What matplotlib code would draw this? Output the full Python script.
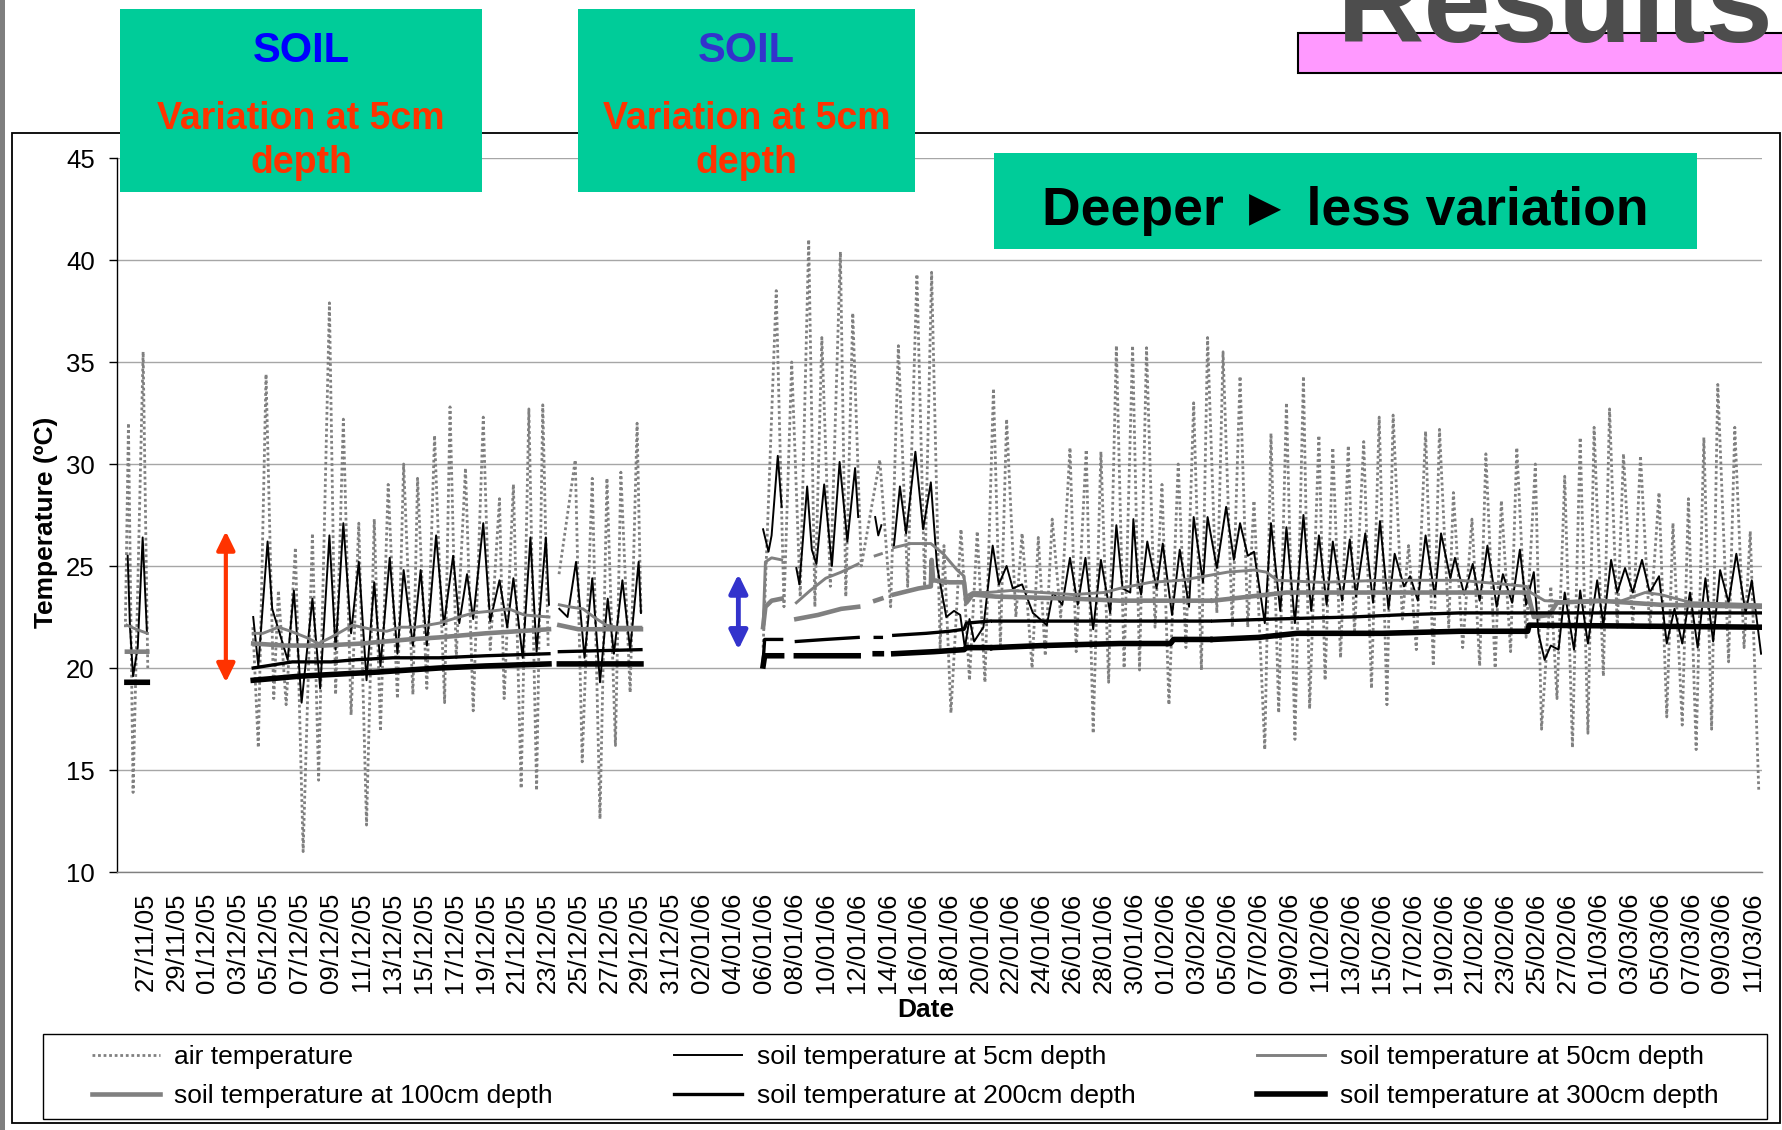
import numpy as np
import pandas as pd
import matplotlib
matplotlib.use('Agg')
import matplotlib.pyplot as plt
from matplotlib.patches import Rectangle

plt.rcParams['font.family'] = ['Liberation Sans', 'DejaVu Sans']

W, H = 1782, 1130
GAP = (np.nan, np.nan)

# logger readings, (day counted from 27/11/05, temperature in degC)
air = [
    (-1.30, 22.0), (-1.10, 32.0), (-0.80, 13.9), (-0.15, 35.5), (0.15, 20.0), GAP,
    (6.95, 22.0), (7.30, 16.1), (7.80, 34.4), (8.30, 18.5), (8.60, 23.8), (9.10, 18.2),
    (9.70, 25.9), (10.20, 11.0), (10.80, 26.6), (11.20, 14.5), (11.90, 37.9), (12.30, 18.7),
    (12.80, 32.2), (13.30, 17.7), (13.80, 27.1), (14.30, 12.3), (14.80, 27.3), (15.20, 16.9),
    (15.70, 29.0), (16.30, 18.5), (16.70, 30.0), (17.30, 18.7), (17.60, 29.3), (18.20, 19.0),
    (18.70, 31.4), (19.35, 18.3), (19.70, 32.8), (20.10, 20.5), (20.70, 29.8), (21.20, 17.9),
    (21.85, 32.3), (22.30, 20.9), (22.90, 28.3), (23.20, 18.5), (23.80, 29.0), (24.30, 14.1),
    (24.80, 32.7), (25.30, 14.0), (25.70, 32.9), (26.05, 21.0), GAP,
    (26.75, 24.6), (27.80, 30.2), (28.25, 15.4), (28.90, 29.3), (29.40, 12.6), (29.85, 29.3),
    (30.40, 16.2), (30.75, 29.6), (31.35, 18.8), (31.80, 32.0), (32.05, 22.7), GAP,
    (39.95, 21.0), (40.80, 38.5), (41.30, 23.0), (41.80, 35.0), (42.35, 23.5), (42.90, 41.0),
    (43.30, 23.0), (43.75, 36.2), (44.30, 24.0), (44.95, 40.4), (45.30, 23.5), (45.75, 37.4),
    (46.30, 25.0), (47.50, 30.2), (48.20, 23.0), (48.70, 35.8), (49.30, 24.0), (49.90, 39.3),
    (50.40, 24.0), (50.85, 39.4), (51.40, 21.0), (51.65, 26.0), (52.10, 17.8), (52.75, 26.8),
    (53.30, 19.4), (53.80, 26.7), (54.30, 19.3), (54.85, 33.7), (55.30, 21.1), (55.70, 32.2),
    (56.30, 22.5), (56.70, 26.6), (57.35, 20.0), (57.75, 26.4), (58.20, 20.6), (58.65, 27.3),
    (59.20, 22.5), (59.80, 30.8), (60.20, 20.8), (60.85, 30.7), (61.30, 16.8), (61.80, 30.6),
    (62.30, 19.3), (62.80, 35.8), (63.30, 20.0), (63.85, 35.8), (64.30, 19.9), (64.75, 35.7),
    (65.30, 22.0), (65.75, 29.0), (66.20, 18.2), (66.80, 30.0), (67.30, 21.0), (67.80, 33.0),
    (68.30, 19.9), (68.70, 36.2), (69.30, 22.7), (69.70, 35.5), (70.30, 22.0), (70.80, 34.3),
    (71.30, 22.0), (71.70, 28.2), (72.40, 16.0), (72.80, 31.5), (73.30, 17.8), (73.80, 33.0),
    (74.35, 16.5), (74.90, 34.3), (75.30, 18.0), (75.90, 31.4), (76.30, 19.4), (76.80, 30.8),
    (77.30, 20.5), (77.80, 30.9), (78.20, 21.7), (78.80, 31.1), (79.30, 19.0), (79.80, 32.3),
    (80.30, 18.2), (80.70, 32.4), (81.30, 22.4), (81.70, 26.0), (82.20, 20.9), (82.80, 31.6),
    (83.30, 20.1), (83.70, 31.7), (84.30, 22.0), (84.60, 28.6), (85.20, 21.0), (85.80, 27.3),
    (86.30, 20.1), (86.70, 30.5), (87.30, 20.0), (87.70, 28.2), (88.30, 20.8), (88.70, 30.8),
    (89.30, 21.5), (89.90, 30.0), (90.30, 17.0), (90.90, 24.0), (91.30, 18.5), (91.80, 29.4),
    (92.30, 16.1), (92.80, 31.3), (93.30, 16.8), (93.70, 31.8), (94.30, 19.6), (94.70, 32.7),
    (95.20, 22.0), (95.60, 30.5), (96.20, 22.0), (96.70, 30.4), (97.30, 21.9), (97.90, 28.6),
    (98.40, 17.6), (98.80, 27.1), (99.40, 17.2), (99.80, 28.3), (100.30, 16.0), (100.80, 31.3),
    (101.30, 17.0), (101.70, 33.9), (102.40, 20.3), (102.80, 31.8), (103.40, 21.0), (103.80, 26.7),
    (104.35, 14.0),
]

soil_5 = [
    (-1.15, 25.5), (-1.00, 22.0), (-0.80, 19.6), (-0.50, 21.0), (-0.18, 26.4), (0.10, 21.7), GAP,
    (6.97, 22.5), (7.30, 20.1), (7.90, 26.2), (8.20, 22.9), (8.60, 21.9), (9.20, 20.4),
    (9.60, 23.8), (10.10, 18.3), (10.80, 23.4), (11.30, 19.0), (11.90, 26.5), (12.30, 20.9),
    (12.80, 27.1), (13.30, 21.7), (13.80, 25.2), (14.30, 19.4), (14.80, 24.2), (15.20, 20.1),
    (15.80, 25.4), (16.30, 20.7), (16.70, 24.8), (17.30, 21.1), (17.80, 24.8), (18.20, 21.1),
    (18.80, 26.5), (19.30, 22.1), (19.90, 25.5), (20.30, 22.2), (20.80, 24.6), (21.20, 22.4),
    (21.85, 27.1), (22.30, 22.3), (22.90, 24.3), (23.40, 22.0), (23.80, 24.4), (24.40, 20.5),
    (24.90, 26.4), (25.30, 20.8), (25.90, 26.4), (26.10, 23.1), GAP,
    (26.77, 22.9), (27.30, 22.5), (27.85, 25.2), (28.40, 20.5), (28.90, 24.4), (29.40, 19.3),
    (29.90, 23.4), (30.30, 20.7), (30.85, 24.3), (31.35, 20.9), (31.90, 25.2), (32.05, 22.7), GAP,
    (39.95, 26.8), (40.30, 25.7), (40.50, 26.5), (40.90, 30.4), (41.15, 27.9), GAP,
    (42.10, 24.9), (42.30, 24.1), (42.80, 28.9), (43.10, 25.8), (43.40, 25.1), (43.90, 29.0),
    (44.40, 25.0), (44.90, 30.1), (45.40, 26.2), (45.90, 29.8), (46.10, 27.4), GAP,
    (47.20, 27.4), (47.40, 26.5), (47.60, 27.0), GAP,
    (48.40, 25.9), (48.80, 28.9), (49.20, 26.6), (49.80, 30.6), (50.30, 26.8), (50.80, 29.1),
    (51.20, 25.0), (51.80, 22.5), (52.30, 22.8), (52.70, 22.6), (53.00, 21.0), (53.30, 22.4),
    (53.60, 21.3), (54.20, 22.0), (54.80, 26.0), (55.20, 24.1), (55.70, 25.0), (56.10, 23.9),
    (56.70, 24.1), (57.40, 22.7), (58.30, 22.1), (58.70, 23.7), (59.30, 23.1), (59.80, 25.4),
    (60.30, 23.1), (60.80, 25.4), (61.30, 21.9), (61.80, 25.3), (62.40, 22.7), (62.80, 27.0),
    (63.20, 23.9), (63.70, 23.7), (63.90, 27.3), (64.20, 24.3), (64.40, 23.6), (64.80, 26.2),
    (65.40, 23.9), (65.80, 26.1), (66.40, 22.6), (66.90, 25.8), (67.50, 23.0), (67.80, 27.4),
    (68.40, 24.2), (68.70, 27.4), (69.30, 24.9), (69.90, 27.9), (70.40, 25.3), (70.80, 27.1),
    (71.30, 25.5), (71.70, 25.7), (72.40, 22.2), (72.80, 27.1), (73.40, 22.8), (73.80, 26.9),
    (74.35, 22.2), (74.90, 27.5), (75.40, 22.8), (75.90, 26.5), (76.40, 23.1), (76.80, 26.2),
    (77.40, 23.3), (77.90, 26.3), (78.30, 23.5), (78.90, 26.6), (79.40, 23.2), (79.85, 27.2),
    (80.40, 22.9), (80.80, 25.6), (81.40, 24.0), (81.80, 24.5), (82.30, 23.3), (82.80, 26.5),
    (83.40, 23.5), (83.80, 26.6), (84.40, 24.4), (84.70, 25.4), (85.30, 23.6), (85.85, 25.1),
    (86.30, 23.3), (86.80, 26.0), (87.40, 23.0), (87.80, 24.6), (88.40, 23.2), (88.90, 25.8),
    (89.30, 23.1), (89.80, 24.7), (90.10, 21.7), (90.50, 20.4), (90.90, 21.1), (91.40, 20.9),
    (91.80, 23.7), (92.40, 20.9), (92.80, 23.8), (93.30, 21.2), (93.90, 24.3), (94.30, 22.1),
    (94.80, 25.3), (95.20, 23.7), (95.70, 24.9), (96.20, 23.7), (96.80, 25.3), (97.30, 23.7),
    (97.90, 24.5), (98.40, 21.2), (98.90, 22.9), (99.40, 21.2), (99.90, 23.7), (100.40, 21.0),
    (100.90, 24.4), (101.40, 21.3), (101.85, 24.8), (102.40, 23.2), (102.90, 25.6), (103.50, 22.7),
    (103.90, 24.3), (104.50, 20.7),
]

soil_50 = [
    (-1.20, 22.1), (-0.60, 21.9), (0.12, 21.7), GAP,
    (6.97, 21.7), (7.60, 21.7), (8.60, 22.0), (9.40, 21.8), (10.40, 21.5), (11.20, 21.2),
    (12.00, 21.5), (13.40, 22.1), (14.60, 21.9), (15.60, 21.8), (16.50, 22.0), (17.50, 22.0),
    (19.00, 22.2), (20.30, 22.5), (21.20, 22.7), (22.50, 22.8), (23.50, 22.9), (24.50, 22.6),
    (26.10, 22.5), GAP,
    (26.77, 23.1), (27.40, 23.0), (28.30, 22.9), (29.00, 22.5), (29.80, 22.1), (30.50, 22.0),
    (32.05, 22.0), GAP,
    (39.95, 22.0), (40.10, 25.2), (40.50, 25.4), (41.15, 25.3), GAP,
    (42.10, 23.2), (43.00, 23.8), (44.00, 24.4), (45.00, 24.7), (46.10, 25.1), GAP,
    (47.20, 25.5), (47.60, 25.6), GAP,
    (48.40, 25.9), (49.50, 26.1), (50.80, 26.1), (51.60, 25.6), (52.50, 24.8), (52.95, 24.5),
    (53.05, 23.5), (53.50, 23.7), (54.50, 23.7), (56.00, 23.8), (58.00, 23.7), (60.00, 23.6),
    (62.00, 23.7), (63.00, 23.9), (65.00, 24.2), (67.00, 24.3), (68.50, 24.5), (70.00, 24.7),
    (71.70, 24.8), (72.50, 24.7), (73.20, 24.3), (76.00, 24.2), (80.00, 24.3), (85.00, 24.3),
    (88.00, 24.1), (89.30, 24.0), (89.60, 23.7), (90.50, 23.3), (93.00, 23.2), (95.50, 23.3),
    (97.00, 23.7), (98.00, 23.6), (100.00, 23.2), (104.50, 23.1),
]

soil_100 = [
    (-1.20, 20.8), (0.12, 20.8), GAP,
    (6.97, 21.2), (9.00, 21.1), (11.50, 21.1), (14.00, 21.2), (17.00, 21.4), (19.00, 21.5),
    (22.00, 21.7), (26.10, 21.9), GAP,
    (26.77, 22.1), (28.00, 21.9), (32.05, 21.9), GAP,
    (39.95, 22.0), (40.10, 23.0), (40.50, 23.3), (41.15, 23.4), GAP,
    (42.10, 22.4), (43.50, 22.6), (45.00, 22.9), (46.10, 23.0), GAP,
    (47.20, 23.3), (47.60, 23.4), GAP,
    (48.40, 23.6), (50.00, 23.9), (50.80, 24.0), (50.85, 25.3), (50.95, 24.3), (52.00, 24.2),
    (52.95, 24.2), (53.10, 23.2), (53.50, 23.6), (55.00, 23.5), (60.00, 23.4), (63.00, 23.3),
    (66.00, 23.3), (68.85, 23.3), GAP,
    (69.05, 23.3), (73.80, 23.7), (80.00, 23.7), (85.00, 23.7), (89.40, 23.7), (89.80, 22.5),
    (90.80, 22.6), (91.30, 23.2), (94.00, 23.3), (98.00, 23.1), (104.50, 23.0),
]

soil_200 = [
    (-1.20, 19.3), (0.12, 19.3), GAP,
    (6.97, 20.0), (9.50, 20.3), (12.00, 20.3), (13.50, 20.4), (16.00, 20.5), (19.00, 20.5),
    (22.00, 20.6), (26.10, 20.7), GAP,
    (26.77, 20.8), (32.05, 20.9), GAP,
    (39.95, 20.3), (40.05, 21.4), (41.15, 21.4), GAP,
    (42.10, 21.3), (44.00, 21.4), (46.10, 21.5), GAP,
    (47.20, 21.5), (47.60, 21.5), GAP,
    (48.40, 21.6), (50.50, 21.7), (52.00, 21.8), (52.95, 21.9), (53.10, 22.2), (54.60, 22.3), GAP,
    (54.80, 22.3), (60.00, 22.3), (63.00, 22.3), (68.85, 22.3), GAP,
    (69.05, 22.3), (73.00, 22.4), (78.00, 22.5), (81.00, 22.6), (85.00, 22.7), (104.50, 22.7),
]

soil_300 = [
    (-1.20, 19.3), (0.12, 19.3), GAP,
    (6.97, 19.4), (10.00, 19.6), (15.00, 19.8), (19.00, 20.0), (22.00, 20.1), (26.10, 20.2), GAP,
    (26.77, 20.2), (32.05, 20.2), GAP,
    (39.95, 20.1), (40.05, 20.6), (41.15, 20.6), GAP,
    (42.10, 20.6), (46.10, 20.6), GAP,
    (47.20, 20.7), (47.60, 20.7), GAP,
    (48.40, 20.7), (51.00, 20.8), (52.95, 20.9), (53.10, 21.0), (54.60, 21.0), GAP,
    (54.80, 21.0), (58.00, 21.1), (63.00, 21.2), (66.30, 21.2), (66.50, 21.4), (68.85, 21.4), GAP,
    (69.05, 21.4), (72.00, 21.5), (74.50, 21.7), (80.00, 21.7), (85.00, 21.8), (89.40, 21.8),
    (89.50, 22.1), (104.50, 22.0),
]

tick_dates = pd.date_range('2005-11-27', '2006-03-11', freq='2D')
tick_days = [(d - tick_dates[0]).days for d in tick_dates]
tick_labels = [d.strftime('%d/%m/%y') for d in tick_dates]
y_ticks = [10, 15, 20, 25, 30, 35, 40, 45]

GREY = '#808080'
series = [
    ('air temperature', air, dict(color=GREY, lw=2.0, ls=(0, (1.0, 1.0)))),
    ('soil temperature at 5cm depth', soil_5, dict(color='black', lw=1.4)),
    ('soil temperature at 50cm depth', soil_50, dict(color=GREY, lw=2.1)),
    ('soil temperature at 100cm depth', soil_100, dict(color=GREY, lw=3.3)),
    ('soil temperature at 200cm depth', soil_200, dict(color='black', lw=2.4)),
    ('soil temperature at 300cm depth', soil_300, dict(color='black', lw=4.0)),
]


def fx(px):
    return px / W


def fy(py):
    return 1 - py / H


fig = plt.figure(figsize=(W / 100, H / 100), dpi=100)
ax = fig.add_axes([fx(117), fy(872), (1762 - 117) / W, (872 - 158) / H])

lines = []
for name, pts, style in series:
    arr = np.array(pts, dtype=float)
    ln, = ax.plot(arr[:, 0], arr[:, 1], label=name, **style)
    lines.append(ln)

ax.set_xlim(-1.84, 104.56)
ax.set_ylim(10, 45)
ax.set_yticks(y_ticks)
ax.set_xticks(tick_days)
ax.set_xticklabels(tick_labels, rotation=90, fontsize=18.5)
ax.tick_params(axis='x', length=0, pad=15)
ax.tick_params(axis='y', length=6, width=1, pad=10, labelsize=18.5, direction='out')
ax.yaxis.grid(True, color='#a6a6a6', lw=1)
ax.set_axisbelow(True)
for side in ('top', 'right'):
    ax.spines[side].set_visible(False)
ax.spines['left'].set_linewidth(1)
ax.spines['bottom'].set_color(GREY)
ax.spines['bottom'].set_linewidth(1)

ax.set_xlabel('Date', fontsize=19, fontweight='bold')
ax.xaxis.set_label_coords(0.4918, -0.177)
ax.set_ylabel('Temperature (ºC)', fontsize=19, fontweight='bold')
ax.yaxis.set_label_coords(-0.0356, 0.49)

# range of the 5cm swing, before and after the gap
ax.annotate('', xy=(5.2, 26.7), xytext=(5.2, 19.3),
            arrowprops=dict(arrowstyle='<|-|>,head_length=0.45,head_width=0.22',
                            mutation_scale=25, color='#ff3300', lw=3,
                            shrinkA=0, shrinkB=0))
ax.annotate('', xy=(38.35, 24.6), xytext=(38.35, 20.9),
            arrowprops=dict(arrowstyle='<|-|>,head_length=0.45,head_width=0.22',
                            mutation_scale=25, color='#3333cc', lw=3.5,
                            shrinkA=0, shrinkB=0))

# legend in its own frame below the plot, filled row by row
fig.add_artist(Rectangle((fx(43), fy(1119)), (1767 - 43) / W, (1119 - 1034) / H,
                         transform=fig.transFigure, fill=False, edgecolor='black', lw=1))
row_order = [0, 3, 1, 4, 2, 5]
fig.legend(handles=[lines[i] for i in row_order], loc='center', ncol=3, frameon=False,
           fontsize=19, bbox_to_anchor=(fx((43 + 1767) / 2), fy((1034 + 1119) / 2)),
           handlelength=2.58, handletextpad=0.55, columnspacing=4.6,
           labelspacing=0.58, borderpad=0)

# chart frame and slide edge
fig.add_artist(Rectangle((fx(12), fy(1123)), (1780 - 12) / W, (1123 - 133) / H,
                         transform=fig.transFigure, fill=False, edgecolor='black', lw=1.3))
fig.add_artist(Rectangle((0, 0), 5 / W, 1, transform=fig.transFigure,
                         facecolor='#7f7f7f', edgecolor='none'))

# title banner, partly off the slide
fig.add_artist(Rectangle((fx(1298), fy(73)), (1800 - 1298) / W, 40 / H,
                         transform=fig.transFigure, facecolor='#ff99ff',
                         edgecolor='black', lw=1.5, zorder=4))
fig.text(fx(1337), fy(42), 'Results', fontsize=87, fontweight='bold',
         color='#4d4d4d', ha='left', va='baseline', zorder=5)

GREEN = '#00cc99'
for (x0, x1), soil_col in (((120, 482), '#0000ff'), ((578, 915), '#3333cc')):
    fig.add_artist(Rectangle((fx(x0), fy(192)), (x1 - x0) / W, (192 - 9) / H,
                             transform=fig.transFigure, facecolor=GREEN,
                             edgecolor='none', zorder=4))
    xc = fx((x0 + x1) / 2)
    fig.text(xc, fy(62), 'SOIL', fontsize=30, fontweight='bold', color=soil_col,
             ha='center', va='baseline', zorder=5)
    fig.text(xc, fy(129), 'Variation at 5cm', fontsize=27, fontweight='bold',
             color='#ff3300', ha='center', va='baseline', zorder=5)
    fig.text(xc, fy(173), 'depth', fontsize=27, fontweight='bold',
             color='#ff3300', ha='center', va='baseline', zorder=5)

fig.add_artist(Rectangle((fx(994), fy(249)), (1697 - 994) / W, (249 - 153) / H,
                         transform=fig.transFigure, facecolor=GREEN,
                         edgecolor='none', zorder=4))
fig.text(fx(1345), fy(225), 'Deeper \u25ba less variation', fontsize=38.5,
         fontweight='bold', color='black', ha='center', va='baseline', zorder=5)

fig.savefig('out.png', dpi=100)
